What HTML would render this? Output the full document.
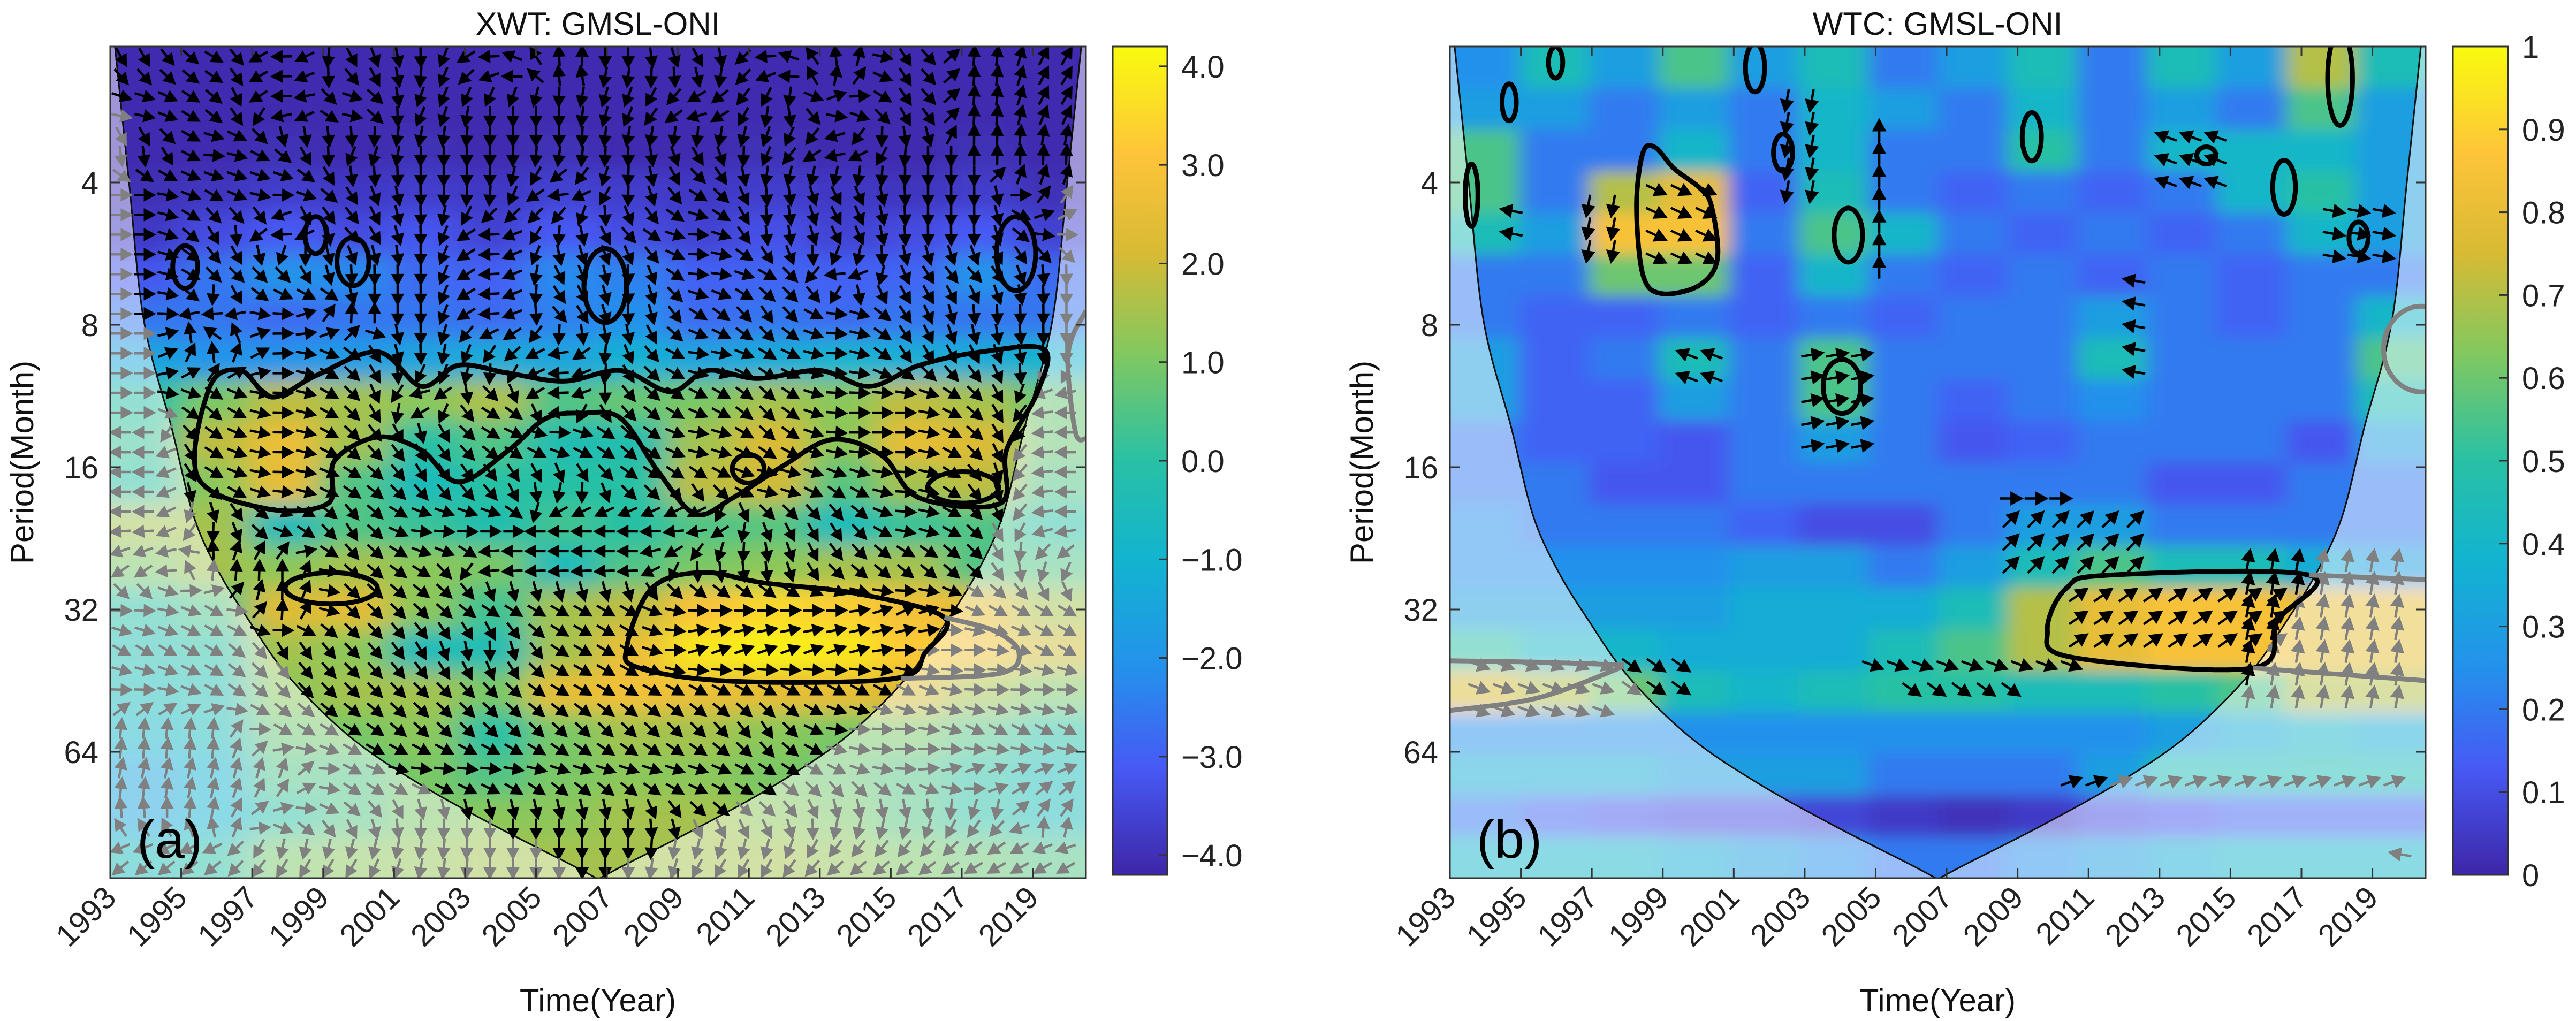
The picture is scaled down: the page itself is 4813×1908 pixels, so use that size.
<!DOCTYPE html>
<html><head><meta charset="utf-8">
<style>
html,body{margin:0;padding:0;background:#fff;}
svg{display:block;font-family:"Liberation Sans",Arial,sans-serif;}
</style></head>
<body>
<svg id="fig" xmlns="http://www.w3.org/2000/svg" width="4813" height="1908" viewBox="0 0 4813 1908">
<defs>
<filter id="blurA" x="-10%" y="-10%" width="120%" height="120%"><feGaussianBlur stdDeviation="30 20"/></filter>
<filter id="blurB" x="-10%" y="-10%" width="120%" height="120%"><feGaussianBlur stdDeviation="18 14"/></filter>
<clipPath id="clipA"><rect x="206" y="87" width="1823" height="1554"/></clipPath>
<clipPath id="clipB"><rect x="2709" y="87" width="1823" height="1554"/></clipPath>
<linearGradient id="cbgrad" x1="0" y1="1" x2="0" y2="0">
<stop offset="0" stop-color="rgb(62,38,168)"/>
<stop offset="0.13" stop-color="rgb(70,90,245)"/>
<stop offset="0.25" stop-color="rgb(36,145,236)"/>
<stop offset="0.38" stop-color="rgb(18,180,208)"/>
<stop offset="0.5" stop-color="rgb(40,193,165)"/>
<stop offset="0.63" stop-color="rgb(130,200,95)"/>
<stop offset="0.75" stop-color="rgb(215,186,52)"/>
<stop offset="0.87" stop-color="rgb(254,196,58)"/>
<stop offset="1" stop-color="rgb(249,251,14)"/>
</linearGradient>
</defs>
<text x="1117" y="65" text-anchor="middle" font-size="60" fill="#111">XWT: GMSL-ONI</text>
<text x="3620" y="65" text-anchor="middle" font-size="60" fill="#111">WTC: GMSL-ONI</text>
<text transform="translate(62,864) rotate(-90)" text-anchor="middle" font-size="60" fill="#111">Period(Month)</text>
<text transform="translate(2565,864) rotate(-90)" text-anchor="middle" font-size="60" fill="#111">Period(Month)</text>
<text x="1117" y="1890" text-anchor="middle" font-size="60" fill="#111">Time(Year)</text>
<text x="3620" y="1890" text-anchor="middle" font-size="60" fill="#111">Time(Year)</text>
<g id="panelA"></g>
<g id="panelB"></g>
<g id="cbars"></g>
</svg>
<script>
// ---- data ----
const yearStart = 1993, yearEnd = 2020.5;
const log2Top = 1.045, log2Bottom = 6.891;
const yTickPeriods = [4, 8, 16, 32, 64];
const xTickYears = [1993,1995,1997,1999,2001,2003,2005,2007,2009,2011,2013,2015,2017,2019];
// cone of influence, left half (mirrored about the series centre)
const coiLeftYears = [1993.13,1993.53,1993.95,1994.73,1995.34,1996.03,1996.89,1998.02,1999.76,2001.66,2003.83,2005.99,2006.75];
const coiLeftPeriods = [2.06,4.0,7.86,13.2,20.2,26.4,33.6,44.3,59.5,74.4,91.7,110.9,119];
const cbTicksA = [4,3,2,1,0,-1,-2,-3,-4];
const cbLabelsA = ["4.0","3.0","2.0","1.0","0.0","\u22121.0","\u22122.0","\u22123.0","\u22124.0"];
const cbTicksB = [1,0.9,0.8,0.7,0.6,0.5,0.4,0.3,0.2,0.1,0];
const cbLabelsB = ["1","0.9","0.8","0.7","0.6","0.5","0.4","0.3","0.2","0.1","0"];
const heatA = [
[-4.1,-4.1,-4.1,-4.1,-4.1,-4.1,-4.1,-4.1,-4.1,-4.1,-4.1,-4.1,-4.1,-4.1],
[-4.1,-4.1,-4.1,-4.1,-4.1,-4.1,-4.1,-4.1,-4.1,-4.1,-4.1,-4.1,-4.1,-4.1],
[-4.1,-4.1,-4.0,-4.1,-4.0,-4.1,-4.0,-4.1,-4.1,-4.0,-4.1,-4.1,-4.0,-4.1],
[-4.0,-3.9,-3.7,-3.8,-3.7,-3.8,-3.6,-3.7,-3.8,-3.7,-3.8,-3.9,-3.7,-4.0],
[-3.8,-3.4,-3.1,-3.4,-3.2,-3.6,-3.1,-3.4,-3.6,-3.3,-3.6,-3.4,-3.1,-3.6],
[-3.2,-2.6,-2.0,-2.2,-2.8,-3.0,-2.2,-2.4,-3.0,-2.9,-3.0,-2.9,-2.0,-2.8],
[-2.6,-2.6,-2.8,-2.6,-2.6,-2.8,-2.4,-2.1,-2.8,-2.6,-2.8,-2.6,-2.6,-2.6],
[-1.5,-2.0,-2.0,-1.8,-1.5,-1.3,-1.5,-1.1,-1.5,-1.3,-1.0,-1.2,-1.3,-1.0],
[0.0,1.0,1.8,1.5,1.2,1.6,0.5,0.8,1.0,1.5,1.2,1.8,1.5,0.8],
[0.2,1.8,2.6,1.5,0.0,0.5,-0.3,-0.2,1.5,2.2,1.2,2.5,2.2,0.8],
[0.0,1.2,2.5,0.5,-0.5,0.0,0.0,0.0,1.8,2.0,0.6,1.5,1.8,0.5],
[1.5,1.5,-0.5,0.5,0.2,-0.2,0.3,0.0,0.5,0.6,-0.5,0.2,0.5,0.0],
[1.0,1.5,1.2,1.5,1.2,1.0,-0.5,0.5,1.0,1.2,1.5,1.5,0.5,0.5],
[0.0,0.5,2.3,2.4,1.2,0.3,1.5,1.8,3.0,3.5,3.3,2.8,2.5,1.5],
[-0.3,0.0,1.5,1.2,-0.5,-0.3,1.5,2.6,3.8,4.0,3.8,3.2,2.8,2.0],
[-0.5,-0.3,1.2,1.5,1.5,1.0,2.5,2.8,2.6,2.5,2.5,2.2,1.5,1.0],
[-0.8,-0.5,0.8,1.0,1.2,0.0,1.0,1.5,1.5,1.2,1.0,1.0,0.5,0.0],
[-1.5,-1.0,0.5,0.5,1.0,0.5,1.0,1.2,1.2,1.0,0.8,0.5,0.0,-0.5],
[-1.5,-1.0,0.0,0.5,1.0,1.2,1.2,1.5,1.5,1.2,1.0,0.5,0.0,-0.5],
[-0.5,0.0,1.0,1.2,1.3,1.5,1.5,1.5,1.5,1.5,1.3,1.0,0.8,0.5]
];
const heatB = [
[0.25,0.45,0.3,0.55,0.3,0.45,0.2,0.3,0.45,0.2,0.45,0.3,0.7,0.45],
[0.3,0.3,0.2,0.3,0.2,0.4,0.3,0.2,0.4,0.2,0.3,0.2,0.55,0.3],
[0.55,0.2,0.2,0.4,0.2,0.4,0.2,0.2,0.5,0.2,0.4,0.4,0.4,0.3],
[0.55,0.2,0.7,0.8,0.15,0.45,0.2,0.15,0.2,0.15,0.2,0.4,0.5,0.3],
[0.45,0.3,0.85,0.85,0.2,0.55,0.4,0.2,0.15,0.2,0.15,0.2,0.4,0.3],
[0.2,0.2,0.6,0.6,0.15,0.4,0.2,0.15,0.2,0.15,0.2,0.15,0.2,0.2],
[0.2,0.15,0.15,0.2,0.15,0.2,0.15,0.2,0.2,0.3,0.2,0.15,0.2,0.4],
[0.3,0.15,0.2,0.45,0.2,0.55,0.2,0.2,0.2,0.45,0.2,0.2,0.2,0.55],
[0.3,0.15,0.15,0.3,0.2,0.55,0.2,0.15,0.2,0.25,0.2,0.2,0.2,0.45],
[0.2,0.15,0.15,0.12,0.2,0.3,0.2,0.12,0.15,0.2,0.2,0.2,0.12,0.3],
[0.2,0.2,0.12,0.12,0.2,0.2,0.2,0.2,0.2,0.2,0.12,0.12,0.2,0.2],
[0.25,0.2,0.2,0.2,0.15,0.1,0.1,0.2,0.3,0.3,0.2,0.2,0.2,0.2],
[0.25,0.25,0.25,0.25,0.3,0.3,0.2,0.3,0.45,0.55,0.45,0.45,0.35,0.3],
[0.3,0.3,0.3,0.3,0.35,0.35,0.35,0.45,0.7,0.8,0.85,0.85,0.8,0.8],
[0.5,0.4,0.4,0.35,0.35,0.35,0.45,0.55,0.7,0.8,0.85,0.85,0.8,0.8],
[0.75,0.7,0.6,0.45,0.4,0.45,0.5,0.5,0.45,0.45,0.5,0.55,0.7,0.7],
[0.25,0.25,0.25,0.25,0.25,0.25,0.25,0.25,0.25,0.25,0.3,0.35,0.4,0.35],
[0.35,0.35,0.35,0.3,0.3,0.3,0.2,0.2,0.2,0.3,0.45,0.45,0.45,0.45],
[0.2,0.15,0.12,0.1,0.1,0.08,0.05,0.03,0.05,0.1,0.12,0.15,0.15,0.15],
[0.4,0.4,0.4,0.35,0.3,0.25,0.2,0.2,0.25,0.3,0.35,0.4,0.4,0.4]
];
const phaseA = [
[-60,-30,180,-60,-90,180,90,-90,-60,180,90,-60,90,60],
[0,-45,180,0,-120,-90,-90,-120,180,-90,0,-60,90,60],
[-90,0,-45,-120,-90,-90,-90,-90,-60,-120,180,-90,90,90],
[0,-30,0,-60,-90,-90,180,-90,-30,-90,-60,-90,-90,60],
[0,-60,180,-45,-90,180,-90,-45,0,-90,-60,-90,-90,0],
[0,-45,-45,-90,-90,180,-60,-90,0,-30,180,-60,-45,-90],
[0,180,0,90,-90,180,-45,-90,-30,-60,0,-60,-90,-90],
[0,90,0,-45,-90,-120,180,-60,0,-30,0,-60,-60,-90],
[0,-45,0,-45,180,-30,180,-45,-30,-45,0,0,-45,180],
[180,-30,0,-45,-60,-30,0,-45,0,-45,0,0,-45,180],
[180,-30,0,-30,-60,-60,-90,-30,-45,0,-30,0,-60,180],
[180,-90,-30,-60,0,0,180,180,180,-60,-60,0,-45,180],
[-150,90,90,-45,-30,180,180,180,-90,-90,-45,-45,-45,-120],
[0,-30,90,-45,-45,-30,-30,-30,0,0,0,30,-30,-30],
[-30,-30,-60,-45,-60,-90,-30,-30,20,20,20,0,0,-30],
[0,-30,-45,-45,-45,-45,-30,-30,-30,-30,-30,-30,0,0],
[90,90,-30,-30,-45,-45,-45,-45,-45,-60,0,0,-30,-30],
[75,75,80,-30,0,0,-15,-15,-15,-30,-30,0,30,30],
[100,80,0,-45,-90,-90,-90,-90,-45,-45,-90,-90,-120,60],
[-140,-140,-120,-120,-100,-90,-90,-90,-120,-120,-140,-140,-150,-150]
];
// panel B arrow groups: year range, log2-period range, angle
const arrowGroupY0 = [2010.7,2004.9,2006.0,1998.1,2008.8,2008.8,1998.8,1996.9,1994.75,1999.7,2003.2,2005.1,2012.3,2002.5,2017.9,2013.2,2010.5,2015.5,1993.1,1993.1,2019.8];
const arrowGroupY1 = [2016.5,2010.5,2009.1,2000.0,2012.8,2010.2,2000.2,1997.9,1995.3,2000.9,2004.6,2005.1,2012.8,2003.5,2019.3,2014.75,2020.0,2020.3,1997.5,1993.7,2019.8];
const arrowGroupL0 = [4.9,5.39,5.56,5.39,4.37,4.22,2.05,2.16,2.2,3.21,3.21,1.64,2.69,1.42,2.2,1.68,6.21,4.66,5.39,1.79,6.72];
const arrowGroupL1 = [5.25,5.39,5.56,5.56,4.77,4.22,2.58,2.61,2.39,3.4,3.88,2.61,3.43,2.09,2.54,2.05,6.21,5.67,5.71,3.28,6.72];
const arrowGroupAngle = [35,-20,-35,-35,45,0,-25,-100,170,160,10,90,170,-100,-10,160,20,80,-20,-60,170];
// contours A (year, log2 period)
const contourA1Years = [1995.81,1996.68,1997.56,1998.79,2000.54,2001.77,2002.82,2004.23,2005.81,2007.39,2008.79,2009.84,2011.25,2013.0,2014.40,2015.81,2017.56,2019.32,2019.14,2018.26,2018.09,2015.81,2014.75,2013.35,2011.95,2010.54,2009.49,2008.44,2007.39,2006.33,2005.28,2004.23,2002.82,2001.77,2000.54,1999.32,1999.14,1997.39,1995.46];
const contourA1Log2 = [3.433,3.321,3.508,3.358,3.190,3.433,3.284,3.340,3.396,3.321,3.470,3.321,3.377,3.321,3.433,3.284,3.190,3.172,3.470,3.881,4.254,4.217,3.918,3.806,3.993,4.217,4.329,4.030,3.657,3.620,3.657,3.881,4.105,3.881,3.788,3.955,4.254,4.291,4.067];
const contourA2Years = [2007.56,2008.26,2009.67,2011.42,2014.05,2016.51,2015.98,2015.11,2010.54,2007.91];
const contourA2Log2 = [5.261,4.851,4.739,4.813,4.888,5.056,5.299,5.485,5.504,5.411];
const grayA1Years = [2016.51,2017.91,2018.61,2018.09,2015.28];
const grayA1Log2 = [5.056,5.149,5.299,5.448,5.485];
const grayA2Years = [2020.5,2020.0,2020.2,2020.5];
const grayA2Log2 = [2.9,3.2,3.75,3.8];
const ellA_year = [1995.11,1998.79,1999.84,2006.95,2018.53,2010.98,1999.23,2017.04];
const ellA_log2 = [2.594,2.370,2.556,2.724,2.500,4.011,4.851,4.142];
const ellA_rw = [0.35,0.3,0.45,0.6,0.55,0.45,1.3,1.0];
const ellA_rh = [0.15,0.13,0.17,0.26,0.26,0.1,0.11,0.11];
// contours B
const contourB1Years = [2009.84,2010.37,2011.6,2017.21,2016.33,2015.63,2010.54];
const contourB1Log2 = [5.149,4.851,4.758,4.758,5.075,5.411,5.336];
const contourB2Years = [1998.79,1999.32,2000.02,2000.37,2000.54,2000.02,1998.96,1998.44,1998.26,1998.44];
const contourB2Log2 = [1.754,1.903,2.034,2.164,2.537,2.724,2.780,2.649,2.164,1.791];
const ellB_year = [1994.67,2002.39,2004.23,2004.05,2009.4,2014.32,2016.51,2018.61,2018.09,2001.6,1995.98,1993.61];
const ellB_log2 = [1.437,1.791,2.37,3.433,1.679,1.81,2.034,2.388,1.269,1.194,1.157,2.09];
const ellB_rw = [0.2,0.27,0.4,0.53,0.27,0.27,0.32,0.27,0.35,0.27,0.2,0.18];
const ellB_rh = [0.13,0.13,0.19,0.19,0.17,0.06,0.19,0.11,0.33,0.17,0.11,0.22];
const grayB1Years = [2017.21,2020.5]; const grayB1Log2 = [4.758,4.79];
const grayB2Years = [2015.63,2020.5]; const grayB2Log2 = [5.411,5.5];
const grayB3Years = [1993,1995.5,1997.9]; const grayB3Log2 = [5.36,5.37,5.39];
const grayB4Years = [1993,1995.5,1997.9]; const grayB4Log2 = [5.71,5.62,5.40];

// ---- helpers ----
const NS = "http://www.w3.org/2000/svg";
const PW = 1823, YTOP = 87, YBOT = 1641;
function xs(x0, yr){ return x0 + (yr - yearStart) * PW / (yearEnd - yearStart); }
function ysL(L){ return 341 + (L - 2) * 266; }
function mk(tag, parent){ const e = document.createElementNS(NS, tag); parent.appendChild(e); return e; }
function parula(t){
  t = Math.max(0, Math.min(1, t));
  const s = [[0,62,38,168],[0.13,70,90,245],[0.25,36,145,236],[0.38,18,180,208],[0.5,40,193,165],[0.63,130,200,95],[0.75,215,186,52],[0.87,254,196,58],[1,249,251,14]];
  for (let i=0;i<s.length-1;i++){
    if (t<=s[i+1][0]){ const f=(t-s[i][0])/(s[i+1][0]-s[i][0]);
      return "rgb("+Math.round(s[i][1]+f*(s[i+1][1]-s[i][1]))+","+Math.round(s[i][2]+f*(s[i+1][2]-s[i][2]))+","+Math.round(s[i][3]+f*(s[i+1][3]-s[i][3]))+")"; }
  }
  return "rgb(249,251,14)";
}
function smoothPath(pts, closed){
  const n = pts.length; let d = "M"+pts[0][0].toFixed(1)+","+pts[0][1].toFixed(1);
  const last = closed ? n : n-1;
  for (let i=0;i<last;i++){
    const p0 = pts[(i-1+n)%n], p1 = pts[i], p2 = pts[(i+1)%n], p3 = pts[(i+2)%n];
    const a = (!closed && i===0) ? p1 : p0, b = (!closed && i+2>=n) ? p2 : p3;
    const c1 = [p1[0]+(p2[0]-a[0])/6, p1[1]+(p2[1]-a[1])/6];
    const c2 = [p2[0]-(b[0]-p1[0])/6, p2[1]-(b[1]-p1[1])/6];
    d += "C"+c1[0].toFixed(1)+","+c1[1].toFixed(1)+" "+c2[0].toFixed(1)+","+c2[1].toFixed(1)+" "+p2[0].toFixed(1)+","+p2[1].toFixed(1);
  }
  return d + (closed ? "Z" : "");
}
function coneHalves(x0){
  const left = [], right = [];
  for (let i=0;i<coiLeftYears.length;i++) left.push([xs(x0, coiLeftYears[i]), ysL(Math.log2(coiLeftPeriods[i]))]);
  for (let i=coiLeftYears.length-1;i>=0;i--) right.push([xs(x0, yearStart + yearEnd - coiLeftYears[i]), ysL(Math.log2(coiLeftPeriods[i]))]);
  left[0][1] = YTOP - 2; right[right.length-1][1] = YTOP - 2;
  return [left, right];
}
function inPoly(x, y, poly){
  let inside = false;
  for (let i=0, j=poly.length-1; i<poly.length; j=i++){
    const xi=poly[i][0], yi=poly[i][1], xj=poly[j][0], yj=poly[j][1];
    if (((yi>y)!==(yj>y)) && (x < (xj-xi)*(y-yi)/(yj-yi)+xi)) inside = !inside;
  }
  return inside;
}
function arrowPath(x, y, ang, len){
  const r = ang*Math.PI/180, dx = Math.cos(r), dy = -Math.sin(r);
  const tx = x - dx*len/2, ty = y - dy*len/2, hx = x + dx*len/2, hy = y + dy*len/2;
  const hl = len*0.45, hw = len*0.24;
  const bx = hx - dx*hl, by = hy - dy*hl;
  return "M"+tx.toFixed(1)+","+ty.toFixed(1)+"L"+bx.toFixed(1)+","+by.toFixed(1)+
    "M"+hx.toFixed(1)+","+hy.toFixed(1)+"L"+(bx-dy*hw).toFixed(1)+","+(by+dx*hw).toFixed(1)+"L"+(bx+dy*hw).toFixed(1)+","+(by-dx*hw).toFixed(1)+"Z";
}

function drawHeat(parent, x0, grid, norm, filt, clip){
  const outer = mk("g", parent);
  outer.setAttribute("clip-path", "url(#"+clip+")");
  
  
  const inner = mk("g", outer);
  inner.setAttribute("filter", "url(#"+filt+")");
  const rows = grid.length, cols = grid[0].length;
  const dYr = (yearEnd-yearStart)/cols, dL = (log2Bottom-log2Top)/rows;
  for (let r=0;r<rows;r++) for (let c=0;c<cols;c++){
    let xa = xs(x0, yearStart + c*dYr), xb = xs(x0, yearStart + (c+1)*dYr);
    let ya = ysL(log2Top + r*dL), yb = ysL(log2Top + (r+1)*dL);
    if (c===0) xa -= 120; if (c===cols-1) xb += 120;
    if (r===0) ya -= 120; if (r===rows-1) yb += 120;
    const rc = mk("rect", inner);
    
    
    rc.setAttribute("x", xa.toFixed(1)); rc.setAttribute("y", ya.toFixed(1));
    rc.setAttribute("width", (xb-xa+1).toFixed(1)); rc.setAttribute("height", (yb-ya+1).toFixed(1));
    rc.setAttribute("fill", parula(norm(grid[r][c])));
  }
}
function drawCone(parent, x0, clip){
  const halves = coneHalves(x0);
  const poly = halves[0].concat(halves[1].slice(1));
  const coneD = smoothPath(halves[0], false) + smoothPath(halves[1], false).replace(/^M/, "L");
  const g = mk("g", parent);
  g.setAttribute("clip-path", "url(#"+clip+")");
  
  
  const d = "M"+x0+","+(YTOP-5)+"H"+(x0+PW)+"V"+(YBOT+5)+"H"+x0+"Z" + coneD + "Z";
  const ov = mk("path", g);
  
  
  ov.setAttribute("d", d); ov.setAttribute("fill-rule", "evenodd");
  ov.setAttribute("fill", "#ffffff"); ov.setAttribute("fill-opacity", "0.5");
  const ln = mk("path", g);
  
  
  ln.setAttribute("d", coneD);
  ln.setAttribute("fill", "none"); ln.setAttribute("stroke", "#111"); ln.setAttribute("stroke-width", "3");
  return poly;
}
function addArrow(g, x0, yr, L, ang, poly, len){
  const x = xs(x0, yr), y = ysL(L);
  if (x < x0+8 || x > x0+PW-8 || y < YTOP+8 || y > YBOT-6) return;
  const inside = inPoly(x, y, poly);
  const a = mk("path", g);
  
  
  a.setAttribute("d", arrowPath(x, y, ang, len));
  const col = inside ? "#000" : "#808080";
  a.setAttribute("stroke", col); a.setAttribute("fill", col);
  a.setAttribute("stroke-width", "4.5"); a.setAttribute("stroke-linejoin", "miter");
}
function phaseAt(yr, L){
  const rows = phaseA.length, cols = phaseA[0].length;
  let fc = (yr-yearStart)/(yearEnd-yearStart)*cols - 0.5, fr = (L-log2Top)/(log2Bottom-log2Top)*rows - 0.5;
  fc = Math.max(0, Math.min(cols-1.001, fc)); fr = Math.max(0, Math.min(rows-1.001, fr));
  const c0 = Math.floor(fc), r0 = Math.floor(fr), tc = fc-c0, tr = fr-r0;
  let sx=0, sy=0;
  [[r0,c0,(1-tr)*(1-tc)],[r0,c0+1,(1-tr)*tc],[r0+1,c0,tr*(1-tc)],[r0+1,c0+1,tr*tc]].forEach(q=>{
    const a = phaseA[q[0]][q[1]]*Math.PI/180; sx += Math.cos(a)*q[2]; sy += Math.sin(a)*q[2];
  });
  return Math.atan2(sy, sx)*180/Math.PI;
}
function drawContour(g, x0, yrs, lg, closed, color, name){
  const pts = yrs.map((y,i)=>[xs(x0,y), ysL(lg[i])]);
  const p = mk("path", g);
  
  
  p.setAttribute("d", smoothPath(pts, closed));
  p.setAttribute("fill", "none"); p.setAttribute("stroke", color); p.setAttribute("stroke-width", "9");
  p.setAttribute("stroke-linejoin", "round");
}
function drawEllipses(g, x0, ey, el, rw, rh){
  for (let i=0;i<ey.length;i++){
    const e = mk("ellipse", g);
    
    
    e.setAttribute("cx", xs(x0, ey[i]).toFixed(1)); e.setAttribute("cy", ysL(el[i]).toFixed(1));
    e.setAttribute("rx", (xs(x0, ey[i]+rw[i]) - xs(x0, ey[i])).toFixed(1));
    e.setAttribute("ry", (ysL(el[i]+rh[i]) - ysL(el[i])).toFixed(1));
    const cx = xs(x0, ey[i]);
    e.setAttribute("fill", "none");
    e.setAttribute("stroke", (cx > x0+PW-40) ? "#808080" : "#000");
    e.setAttribute("stroke-width", "9");
  }
}
function drawAxes(parent, x0, label){
  const g = mk("g", parent);
  
  
  const box = mk("rect", g);
  
  
  box.setAttribute("x", x0); box.setAttribute("y", YTOP); box.setAttribute("width", PW); box.setAttribute("height", YBOT-YTOP);
  box.setAttribute("fill", "none"); box.setAttribute("stroke", "#333"); box.setAttribute("stroke-width", "3");
  yTickPeriods.forEach(p=>{
    const y = ysL(Math.log2(p));
    const t = mk("path", g);
    
    
    t.setAttribute("d", "M"+x0+","+y+"h18M"+(x0+PW)+","+y+"h-18");
    t.setAttribute("stroke", "#333"); t.setAttribute("stroke-width", "3");
    const tx = mk("text", g);
    
    
    tx.setAttribute("x", x0-22); tx.setAttribute("y", y+21);
    tx.setAttribute("text-anchor", "end"); tx.setAttribute("font-size", "58"); tx.setAttribute("fill", "#222");
    tx.textContent = String(p);
  });
  xTickYears.forEach(yr=>{
    const x = xs(x0, yr);
    const t = mk("path", g);
    
    
    t.setAttribute("d", "M"+x+","+YBOT+"v-18M"+x+","+YTOP+"v18");
    t.setAttribute("stroke", "#333"); t.setAttribute("stroke-width", "3");
    const tx = mk("text", g);
    
    
    tx.setAttribute("transform", "translate("+(x+14)+","+(YBOT+40)+") rotate(-45)");
    tx.setAttribute("text-anchor", "end"); tx.setAttribute("font-size", "58"); tx.setAttribute("fill", "#222");
    tx.textContent = String(yr);
  });
  const pl = mk("text", g);
  
  
  pl.setAttribute("x", x0+50); pl.setAttribute("y", YBOT-38);
  pl.setAttribute("font-size", "100"); pl.setAttribute("fill", "#000");
  pl.textContent = label;
}

// ---- Panel A ----
const PA = document.getElementById("panelA"), XA = 206;
drawHeat(PA, XA, heatA, v=>(v+4.2)/8.4, "blurA", "clipA");
const polyA = drawCone(PA, XA, "clipA");
const arrA = mk("g", PA);


arrA.setAttribute("clip-path", "url(#clipA)");
for (let L = log2Top + 0.07; L < log2Bottom; L += 0.139){
  for (let yr = yearStart + 0.3; yr < yearEnd; yr += 0.65){
    addArrow(arrA, XA, yr, L, phaseAt(yr, L), polyA, 36);
  }
}
const conA = mk("g", PA);


conA.setAttribute("clip-path", "url(#clipA)");
drawContour(conA, XA, contourA1Years, contourA1Log2, true, "#000", "contour-band");
drawContour(conA, XA, contourA2Years, contourA2Log2, true, "#000", "contour-40-month");
drawContour(conA, XA, grayA1Years, grayA1Log2, false, "#808080", "contour-outside-coi");
drawContour(conA, XA, grayA2Years, grayA2Log2, false, "#808080", "contour-outside-coi");
drawEllipses(conA, XA, ellA_year, ellA_log2, ellA_rw, ellA_rh);
drawAxes(PA, XA, "(a)");

// ---- Panel B ----
const PB = document.getElementById("panelB"), XB = 2709;
drawHeat(PB, XB, heatB, v=>v, "blurB", "clipB");
const polyB = drawCone(PB, XB, "clipB");
const arrB = mk("g", PB);


arrB.setAttribute("clip-path", "url(#clipB)");
for (let gi=0; gi<arrowGroupY0.length; gi++){
  for (let L = arrowGroupL0[gi]; L <= arrowGroupL1[gi] + 1e-6; L += 0.16){
    for (let yr = arrowGroupY0[gi]; yr <= arrowGroupY1[gi] + 1e-6; yr += 0.7){
      addArrow(arrB, XB, yr, L, arrowGroupAngle[gi], polyB, 40);
    }
  }
}
const conB = mk("g", PB);


conB.setAttribute("clip-path", "url(#clipB)");
drawContour(conB, XB, contourB1Years, contourB1Log2, true, "#000", "contour-32-month");
drawContour(conB, XB, contourB2Years, contourB2Log2, true, "#000", "contour-5-month");
drawContour(conB, XB, grayB1Years, grayB1Log2, false, "#808080", "contour-outside-coi");
drawContour(conB, XB, grayB2Years, grayB2Log2, false, "#808080", "contour-outside-coi");
drawContour(conB, XB, grayB3Years, grayB3Log2, false, "#808080", "contour-outside-coi");
drawContour(conB, XB, grayB4Years, grayB4Log2, false, "#808080", "contour-outside-coi");
drawEllipses(conB, XB, ellB_year, ellB_log2, ellB_rw, ellB_rh);
{
  const e = mk("ellipse", conB);
  
  
  e.setAttribute("cx", xs(XB, 2020.37)); e.setAttribute("cy", ysL(3.17));
  e.setAttribute("rx", 70); e.setAttribute("ry", 80);
  e.setAttribute("fill", "none"); e.setAttribute("stroke", "#808080"); e.setAttribute("stroke-width", "9");
}
drawAxes(PB, XB, "(b)");

// ---- Colorbars ----
const CB = document.getElementById("cbars");
function colorbar(x, w, ticks, labels, vmin, vmax, name){
  const g = mk("g", CB);
  
  
  const top = 87, bot = 1635;
  const r = mk("rect", g);
  
  
  r.setAttribute("x", x); r.setAttribute("y", top); r.setAttribute("width", w); r.setAttribute("height", bot-top);
  r.setAttribute("fill", "url(#cbgrad)"); r.setAttribute("stroke", "#333"); r.setAttribute("stroke-width", "3");
  ticks.forEach((v,i)=>{
    const y = bot - (v - vmin)/(vmax - vmin)*(bot - top);
    const t = mk("path", g);
    
    
    t.setAttribute("d", "M"+(x+w)+","+y+"h-16");
    t.setAttribute("stroke", "#333"); t.setAttribute("stroke-width", "3");
    const tx = mk("text", g);
    
    
    tx.setAttribute("x", x+w+26); tx.setAttribute("y", y+21);
    tx.setAttribute("font-size", "58"); tx.setAttribute("fill", "#222");
    tx.textContent = labels[i];
  });
}
colorbar(2079, 102, cbTicksA, cbLabelsA, -4.2, 4.2, "colorbar-xwt");
colorbar(4583, 103, cbTicksB, cbLabelsB, 0, 1, "colorbar-wtc");
</script>
</body></html>
